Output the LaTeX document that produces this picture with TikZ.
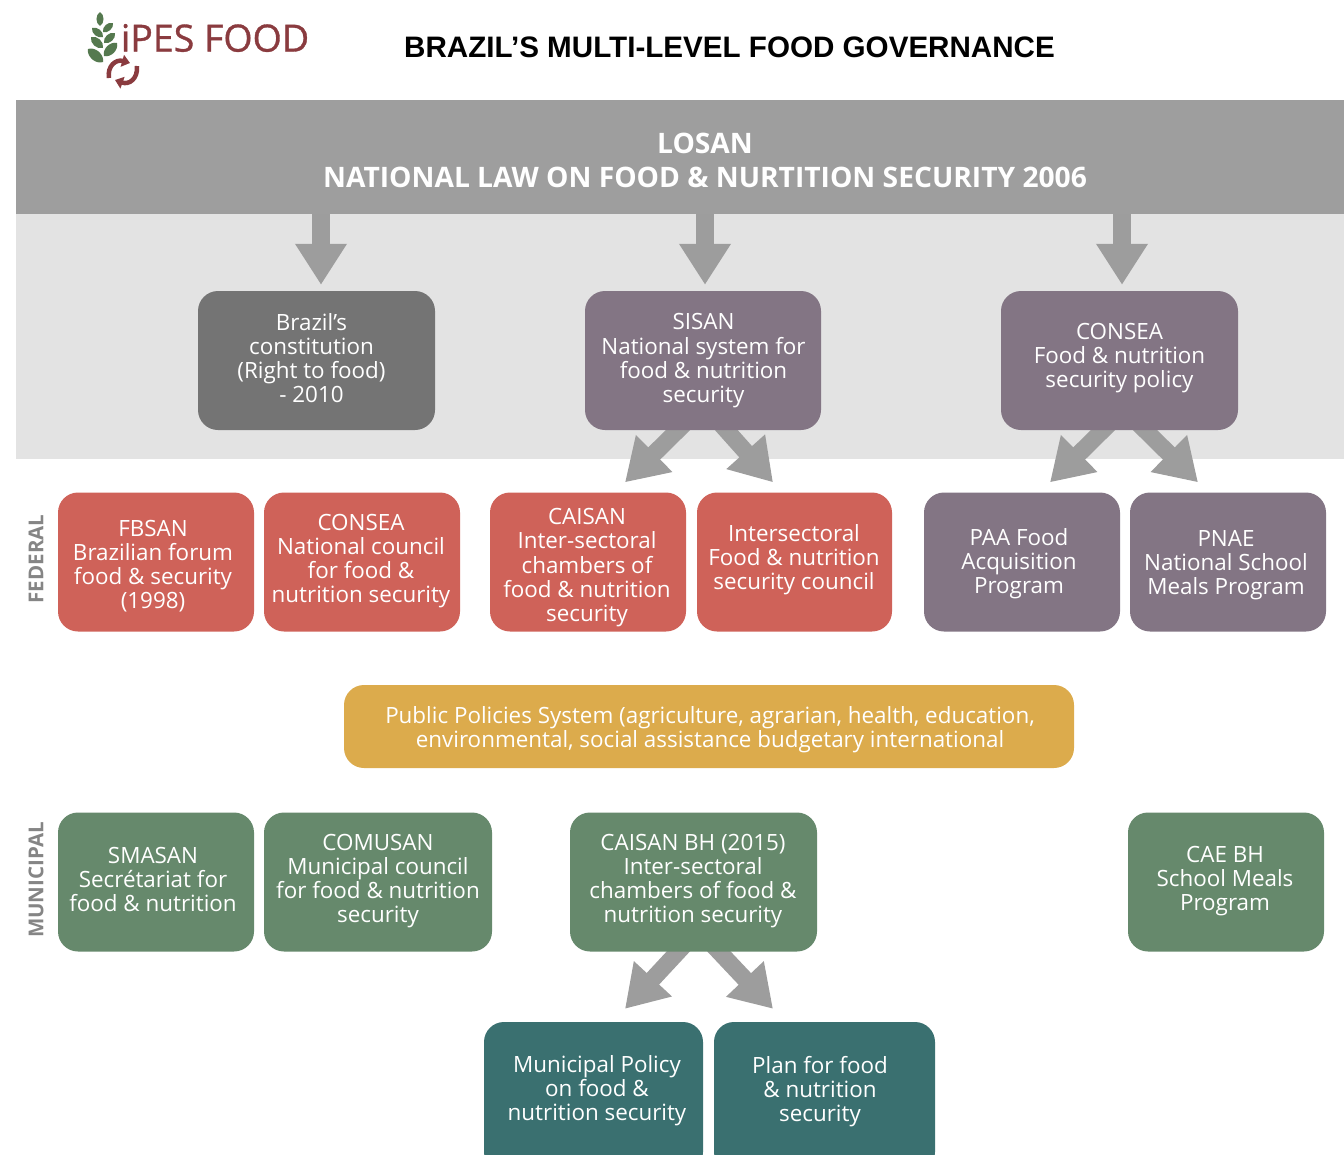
\documentclass[tikz,border=0pt]{standalone}
\usepackage{fontspec}
\setmainfont{Open Sans}
\newfontfamily\titlefont{Liberation Sans}
\newfontfamily\logofont[FakeBold=0.9]{Open Sans}
\usetikzlibrary{arrows.meta,calc}
\pgfdeclarelayer{bg}
\pgfdeclarelayer{arrowlayer}
\pgfsetlayers{bg,arrowlayer,main}
\definecolor{bandgrey}{HTML}{E3E3E3}
\definecolor{bannergrey}{HTML}{9E9E9E}
\definecolor{arrowgrey}{HTML}{9D9D9D}
\definecolor{darkgrey}{HTML}{747474}
\definecolor{purplegrey}{HTML}{837584}
\definecolor{redbox}{HTML}{CF6259}
\definecolor{yellowbox}{HTML}{DCAB4C}
\definecolor{greenbox}{HTML}{66896C}
\definecolor{tealbox}{HTML}{3A7070}
\definecolor{maroon}{HTML}{8A3B3F}
\definecolor{leaf}{HTML}{55794F}
\definecolor{sidegrey}{HTML}{858585}
% box text moved by dx (right) and dy (down) from the box centre
\newcommand\tb[3]{\makebox[0pt]{\hspace*{\dimexpr2\dimexpr#1pt\relax\relax}\smash{\raisebox{\dimexpr-1\dimexpr#2pt\relax-6pt\relax}{\begin{tabular}{@{}c@{}}#3\end{tabular}}}}}
\tikzset{
  cell/.style={rounded corners=20pt,inner sep=0pt,text=white,
    font=\fontsize{22.4}{24}\selectfont,minimum height=139pt},
  gbox/.style={cell,fill=darkgrey},
  pbox/.style={cell,fill=purplegrey},
  rbox/.style={cell,fill=redbox},
  ybox/.style={cell,fill=yellowbox},
  mbox/.style={cell,fill=greenbox},
  tbox/.style={cell,fill=tealbox},
  fat/.style={draw=arrowgrey,line width=18pt,-{Triangle[length=41pt,width=49pt,fill=arrowgrey]}},
  slim/.style={draw=arrowgrey,line width=17pt,-{Triangle[length=41pt,width=49pt,fill=arrowgrey]}},
  sidelabel/.style={rotate=90,text=sidegrey,font=\fontsize{20.5}{24}\selectfont\bfseries},
  cyc/.style={draw=maroon,line width=4.5pt,-{Triangle[length=8pt,width=12pt,fill=maroon]}}
}
\newcommand\wheat[4]{\fill[leaf] (#1,#2) to[bend left=60] (#3,#4) to[bend left=60] (#1,#2) -- cycle;}
\begin{document}
\begin{tikzpicture}[x=1pt,y=-1pt]
\useasboundingbox (0,0) rectangle (1344,1154);
\clip (0,0) rectangle (1344,1154);
\begin{pgfonlayer}{bg}
  \fill[bandgrey] (16,214) rectangle (1344,459);
\end{pgfonlayer}
% banner
\node[fill=bannergrey,minimum width=1328pt,minimum height=114pt,inner sep=0pt] (losan) at (680,157) {};
\node[text=white,align=center,font=\fontsize{28.2}{34}\selectfont\bfseries] (losantext) at (705,160) {LOSAN\\NATIONAL LAW ON FOOD \& NURTITION SECURITY 2006};
% header
\node[font=\titlefont\fontsize{29.6}{34}\selectfont\bfseries,text=black,inner sep=0pt] (title) at (729.5,47) {BRAZIL’S MULTI-LEVEL FOOD GOVERNANCE};
\node[font=\logofont\fontsize{37.5}{40}\selectfont,text=maroon,inner sep=0pt] (logotext) at (215,38) {iPES FOOD};
% logo leaves
\wheat{100}{12}{100}{26}
\wheat{113}{23}{103}{32}
\wheat{115}{33}{104}{43}
\wheat{117}{43}{104}{56}
\wheat{92}{28}{103}{37}
\wheat{91}{37}{103}{48}
\wheat{88}{49}{103}{62}
\draw[cyc] (109,78) .. controls (107,66) and (116,59) .. (130,63);
\draw[cyc] (137,66) .. controls (138,79) and (129,85) .. (115,80);
% row 1
\node[gbox,minimum width=237pt] (const) at (316.5,360.5) {\tb{-5}{0.5}{Brazil's\\constitution\\(Right to food)\\- 2010}};
\node[pbox,minimum width=236pt] (sisan) at (703,360.5) {\tb{0.5}{0}{SISAN\\National system for\\food \& nutrition\\security}};
\node[pbox,minimum width=237pt] (consea) at (1119.5,360.5) {\tb{0}{-2.5}{CONSEA\\Food \& nutrition\\security policy}};
% federal
\node[rbox,minimum width=196pt] (fbsan) at (156,562) {\tb{-3}{5}{FBSAN\\Brazilian forum\\food \& security\\(1998)}};
\node[rbox,minimum width=196pt] (council) at (362,562) {\tb{-1}{-1}{CONSEA\\National council\\for food \&\\nutrition security}};
\node[rbox,minimum width=196pt] (caisan) at (588,562) {\tb{-1}{5.5}{CAISAN\\Inter-sectoral\\chambers of\\food \& nutrition\\security}};
\node[rbox,minimum width=195pt] (inter) at (794.5,562) {\tb{-0.5}{-2}{Intersectoral\\Food \& nutrition\\security council}};
\node[pbox,minimum width=196pt] (paa) at (1022,562) {\tb{-3}{2}{PAA Food\\Acquisition\\Program}};
\node[pbox,minimum width=196pt] (pnae) at (1228,562) {\tb{-2}{3}{PNAE\\National School\\Meals Program}};
% public policies
\node[ybox,minimum width=730pt,minimum height=83pt] (public) at (709,726.5) {\tb{1}{3}{Public Policies System (agriculture, agrarian, health, education,\\environmental, social assistance budgetary international}};
% municipal
\node[mbox,minimum width=196pt] (smasan) at (156,882) {\tb{-3}{0}{SMASAN\\Secrétariat for\\food \& nutrition}};
\node[mbox,minimum width=228pt] (comusan) at (378,882) {\tb{0}{-1}{COMUSAN\\Municipal council\\for food \& nutrition\\security}};
\node[mbox,minimum width=247pt] (caisanbh) at (693.5,882) {\tb{-0.5}{-1}{CAISAN BH (2015)\\Inter-sectoral\\chambers of food \&\\nutrition security}};
\node[mbox,minimum width=196pt] (cae) at (1226,882) {\tb{-1}{-1}{CAE BH\\School Meals\\Program}};
% bottom row (runs off the page)
\node[tbox,minimum width=219pt,minimum height=150pt] (policy) at (593.5,1097) {\tb{3.5}{-6}{Municipal Policy\\on food \&\\nutrition security}};
\node[tbox,minimum width=221pt,minimum height=150pt] (plan) at (824.5,1097) {\tb{-4.5}{-5}{Plan for food\\\& nutrition\\security}};
% side labels
\node[sidelabel] (federal) at (36,559) {FEDERAL};
\node[sidelabel] (municipal) at (36,880) {MUNICIPAL};
% connectors
\begin{pgfonlayer}{arrowlayer}
  \draw[fat] ($(const.north)+(4.5,-91)$) -- ($(const.north)+(4.5,-6)$);
  \draw[fat] ($(sisan.north)+(2,-91)$) -- ($(sisan.north)+(2,-6)$);
  \draw[fat] ($(consea.north)+(2.5,-91)$) -- ($(consea.north)+(2.5,-6)$);
  \draw[slim] ($(sisan.south)+(-10,-15)$) -- ($(caisan.north)+(37,-10)$);
  \draw[slim] ($(sisan.south)+(10,-15)$) -- ($(inter.north)+(-21.5,-10)$);
  \draw[slim] ($(consea.south)+(-1.5,-15)$) -- ($(paa.north)+(28,-10)$);
  \draw[slim] ($(consea.south)+(10.5,-15)$) -- ($(pnae.north)+(-30,-10)$);
  \draw[slim] ($(caisanbh.south)+(-1.5,-15)$) -- ($(policy.north)+(31.5,-13)$);
  \draw[slim] ($(caisanbh.south)+(11.5,-15)$) -- ($(plan.north)+(-51.5,-13)$);
\end{pgfonlayer}
\end{tikzpicture}
\end{document}
